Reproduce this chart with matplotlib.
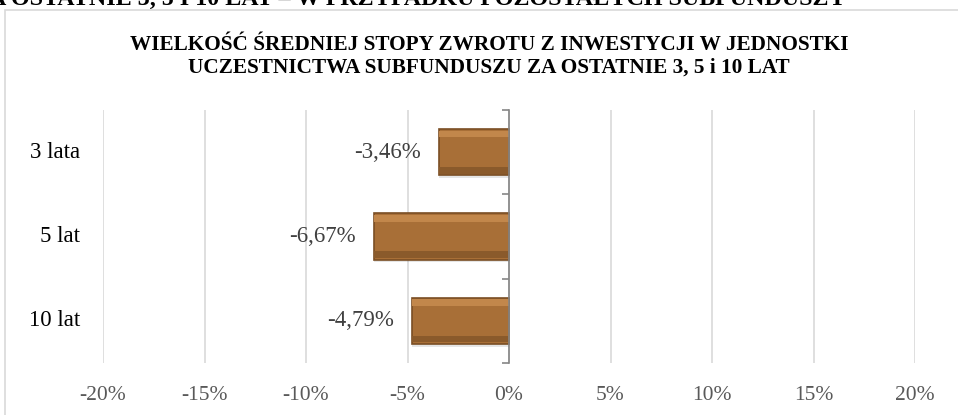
import matplotlib
matplotlib.use("Agg")
import matplotlib.pyplot as plt
from matplotlib.patches import Rectangle
from matplotlib.transforms import blended_transform_factory

categories = ["3 lata", "5 lat", "10 lat"]
values = [-3.46, -6.67, -4.79]
value_labels = ["-3,46%", "-6,67%", "-4,79%"]
x_ticks = [-20, -15, -10, -5, 0, 5, 10, 15, 20]
x_tick_labels = ["-20%", "-15%", "-10%", "-5%", "0%", "5%", "10%", "15%", "20%"]
title_lines = ["WIELKOŚĆ ŚREDNIEJ STOPY ZWROTU Z INWESTYCJI W JEDNOSTKI",
               "UCZESTNICTWA SUBFUNDUSZU ZA OSTATNIE 3, 5 i 10 LAT"]
top_caption = "ZA OSTATNIE 3, 5 I 10 LAT – W PRZYPADKU POZOSTAŁYCH SUBFUNDUSZY"

plt.rcParams['font.family'] = ['Liberation Serif', 'DejaVu Serif']

W, H = 958, 415
fig = plt.figure(figsize=(W / 100, H / 100), dpi=100)
fig.patch.set_facecolor("white")

# chart border
fig.patches.append(Rectangle((5 / W, -0.05), 1.2, 1 - 10 / H + 0.05, transform=fig.transFigure,
                             fill=False, edgecolor="#D9D9D9", linewidth=1.2))
# cut-off caption above the chart (it is cropped in the reference too)
fig.text(846 / W, 1 - 5 / H, top_caption, ha="right", va="baseline",
         fontsize=17.3, fontweight="bold", color="black")

ax = fig.add_axes([103 / W, 1 - 363 / H, 812 / W, 253 / H])
ax.set_xlim(-20, 20)
ax.set_ylim(2.5, -0.5)

ypos = list(range(len(categories)))
# shadow
ax.barh([y + 0.03 for y in ypos], values, height=0.55, left=0, color="#000000", alpha=0.10,
        linewidth=0, zorder=2)
ax.barh(ypos, values, height=0.55, color="#A86F37", edgecolor="#7A4E24", linewidth=1.2, zorder=3)
# bevel highlight/shade strips
ax.barh([y - 0.215 for y in ypos], values, height=0.08, color="#C2874B", linewidth=0, zorder=4)
ax.barh([y + 0.215 for y in ypos], values, height=0.08, color="#8A5A2B", linewidth=0, zorder=4)

for y, v, lab in zip(ypos, values, value_labels):
    ax.annotate(lab, xy=(v, y), xytext=(-13, 0), textcoords="offset points",
                ha="right", va="center", fontsize=16.5, color="#404040")

trans = blended_transform_factory(ax.transAxes, ax.transData)
for y, c in zip(ypos, categories):
    ax.text(-23 / 812, y, c, transform=trans, ha="right", va="center", fontsize=16.5, color="black")

ax.set_xticks(x_ticks)
ax.set_xticklabels(x_tick_labels)
ax.tick_params(axis="x", length=0, pad=16.5, labelsize=15.5, labelcolor="#595959")
ax.grid(axis="x", color="#D9D9D9", linewidth=1.2, zorder=0)
ax.set_axisbelow(True)

for s in ["top", "right", "bottom"]:
    ax.spines[s].set_visible(False)
ax.spines["left"].set_position(("data", 0))
ax.spines["left"].set_color("#868686")
ax.spines["left"].set_linewidth(1.2)
ax.spines["left"].set_zorder(5)
ax.set_yticks([-0.5, 0.5, 1.5, 2.5])
ax.set_yticklabels([])
ax.tick_params(axis="y", length=5, width=1.2, color="#868686", direction="out")

for line, base in zip(title_lines, [50, 73]):
    fig.text(489 / W, 1 - base / H, line, ha="center", va="baseline", fontsize=15.3,
             fontweight="bold", color="black")

fig.savefig("out.png", dpi=100, facecolor="white")
